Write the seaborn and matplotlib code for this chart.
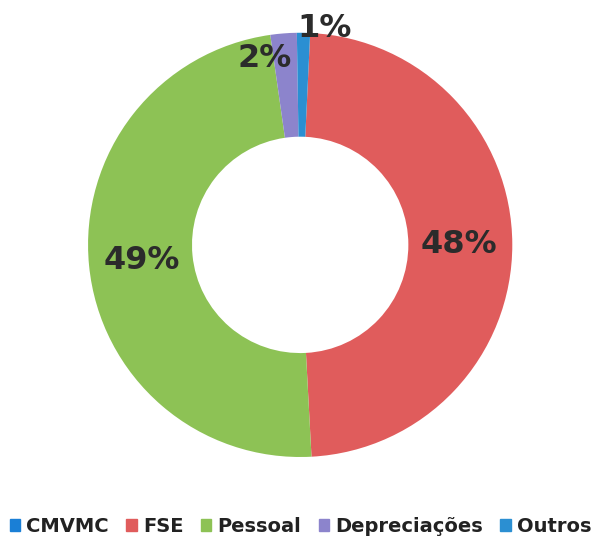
import numpy as np
import seaborn as sns
import matplotlib.pyplot as plt

categories = ['CMVMC', 'FSE', 'Pessoal', 'Depreciações', 'Outros']
values = [0.0, 48.4, 48.6, 2.0, 1.0]
labels = ['', '48%', '49%', '2%', '1%']
colors = ['#1a7fd6', '#e05c5c', '#8dc255', '#8c84cc', '#2b8fd2']

sns.set_theme(style='white')
plt.rcParams['font.family'] = ['DejaVu Sans']

fig = plt.figure(figsize=(5.95, 5.46), dpi=100)
ax = fig.add_axes([0.148, 0.163, 0.713, 0.777])

start_angle = 87.3
wedges, _ = ax.pie(values, colors=colors, startangle=start_angle, counterclock=False,
                   radius=1.0, wedgeprops=dict(width=0.49, edgecolor='none'))

# percentage labels at each wedge's middle angle
dists = [0, 0.75, 0.75, 0.88, 1.02]
shifts = [0, 0, 0, -0.1, 0.1]
total = sum(values)
start = start_angle
for i, v in enumerate(values):
    mid = start - 360.0 * v / total / 2
    start -= 360.0 * v / total
    if not labels[i]:
        continue
    a = np.deg2rad(mid)
    ax.text(dists[i] * np.cos(a) + shifts[i], dists[i] * np.sin(a), labels[i],
            ha='center', va='center', fontsize=23, fontweight='bold', color='#2b2b2b')

ax.set_xlim(-1, 1)
ax.set_ylim(-1, 1)
ax.set_aspect('equal')

handles = [plt.Rectangle((0, 0), 1, 1, color=c) for c in colors]
fig.legend(handles, categories, loc='lower center', bbox_to_anchor=(0.505, -0.014),
           ncol=5, frameon=False, handlelength=0.55, handleheight=0.55,
           handletextpad=0.3, columnspacing=0.9,
           prop=dict(weight='bold', size=14))
for t in fig.legends[0].get_texts():
    t.set_color('#222222')

fig.savefig('out.png', dpi=100)
